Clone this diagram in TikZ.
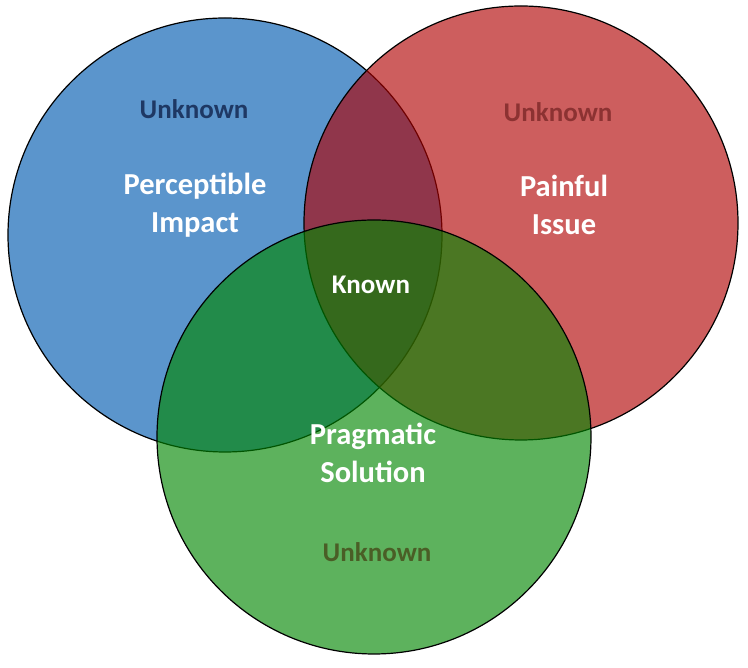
\documentclass[tikz,border=0pt]{standalone}
\usepackage{fontspec}
\setmainfont{Carlito}
\usetikzlibrary{positioning,calc}

\definecolor{impactblue}{RGB}{91,149,204}
\definecolor{issuered}{RGB}{176,0,0}
\definecolor{solutiongreen}{RGB}{2,134,2}
\definecolor{navytext}{RGB}{30,56,100}
\definecolor{maroontext}{RGB}{140,50,50}
\definecolor{olivetext}{RGB}{74,94,38}

\tikzset{
	setring/.style={draw=black,line width=1.2pt},
	biglabel/.style={text=white,align=center,font=\bfseries\fontsize{30.5}{38}\selectfont},
	smalllabel/.style={font=\bfseries\fontsize{27}{32}\selectfont},
}

\begin{document}
\begin{tikzpicture}[x=1pt,y=1pt]
		\useasboundingbox (0,0) rectangle (748,668);
		\coordinate (cb) at (225,433);
		\coordinate (cr) at (521,445);
		\coordinate (cg) at (374,231);
		%
		\fill[impactblue] (cb) circle[radius=217];
		\draw[setring] (cb) circle[radius=217];
		\fill[issuered,fill opacity=0.63] (cr) circle[radius=217];
		\draw[setring] (cr) circle[radius=217];
		\fill[solutiongreen,fill opacity=0.64] (cg) circle[radius=217];
		\draw[setring] (cg) circle[radius=217];
		%
		\node[smalllabel,text=navytext] (ub) at (194,559) {Unknown};
		\node[biglabel] (pi) at (195,463) {Perceptible\\Impact};
		\node[smalllabel,text=maroontext] (ur) at (558,556) {Unknown};
		\node[biglabel] (pa) at (564,463) {Painful\\Issue};
		\node[smalllabel,text=white] (kn) at (371,383) {Known};
		\node[biglabel] (ps) at (373,215) {Pragmatic\\Solution};
		\node[smalllabel,text=olivetext] (ug) at (377,116) {Unknown};
	\end{tikzpicture}
\end{document}
